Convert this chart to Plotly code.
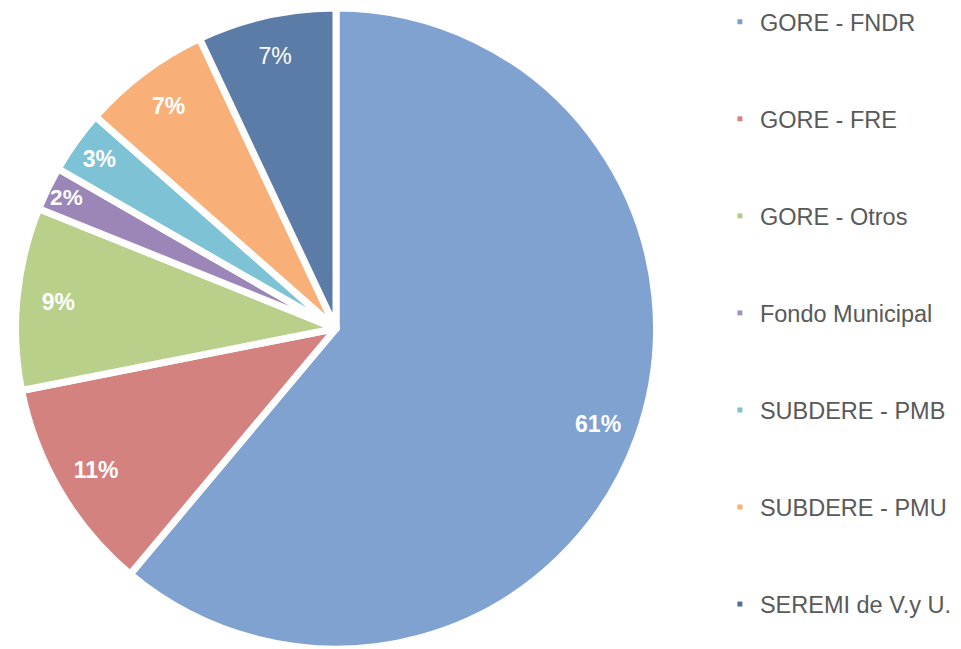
import plotly.graph_objects as go

categories = ["GORE - FNDR", "GORE - FRE", "GORE - Otros", "Fondo Municipal",
              "SUBDERE - PMB", "SUBDERE - PMU", "SEREMI de V.y U."]
shares = [61.1, 10.8, 9.2, 2.2, 3.2, 6.5, 7.0]
pct_labels = ["<b>61%</b>", "<b>11%</b>", "<b>9%</b>", "<b>2%</b>", "<b>3%</b>", "<b>7%</b>", "7%"]
colors = ["#7fa2d0", "#d4827f", "#b9d08b", "#9c86b7", "#7ec3d5", "#f8b078", "#5c7ca8"]
legend_colors = ["#7ea0cf", "#d9837f", "#b5cc86", "#a592bf", "#7ec3d5", "#f8b078", "#4f6f9c"]

pie_domain = dict(x=[0.0079, 0.6805], y=[0.0, 1.0])

fig = go.Figure()
# filled slices
fig.add_trace(go.Pie(
    labels=categories, values=shares, textinfo="none",
    sort=False, direction="clockwise", rotation=0,
    marker=dict(colors=colors, line=dict(color="white", width=7)),
    domain=pie_domain, showlegend=False, hoverinfo="label+percent",
))
# transparent ring carrying the percentage labels near the rim
fig.add_trace(go.Pie(
    labels=categories, values=shares, text=pct_labels, hole=0.74,
    textinfo="text", textposition="inside", insidetextorientation="horizontal",
    sort=False, direction="clockwise", rotation=0,
    marker=dict(colors=["rgba(0,0,0,0)"] * len(categories), line=dict(width=0)),
    textfont=dict(color="white", size=23, family="Liberation Sans, Arial"),
    domain=pie_domain, showlegend=False, hoverinfo="skip",
))
for i, (name, c) in enumerate(zip(categories, legend_colors)):
    fig.add_trace(go.Scatter(
        x=[None], y=[None], mode="markers", name=name, legendgroup=f"g{i}",
        marker=dict(symbol="square", size=5, color=c),
    ))

fig.update_layout(
    width=953, height=641,
    margin=dict(l=0, r=0, t=0, b=0, autoexpand=False),
    paper_bgcolor="white", plot_bgcolor="white",
    xaxis=dict(visible=False), yaxis=dict(visible=False),
    legend=dict(
        x=0.747, y=1.0125, xanchor="left", yanchor="top", maxheight=1,
        font=dict(family="Liberation Sans, Arial", size=23.5, color="#595959"),
        tracegroupgap=63.5, itemwidth=30, bgcolor="rgba(0,0,0,0)",
    ),
)
fig.write_html("out.html")
